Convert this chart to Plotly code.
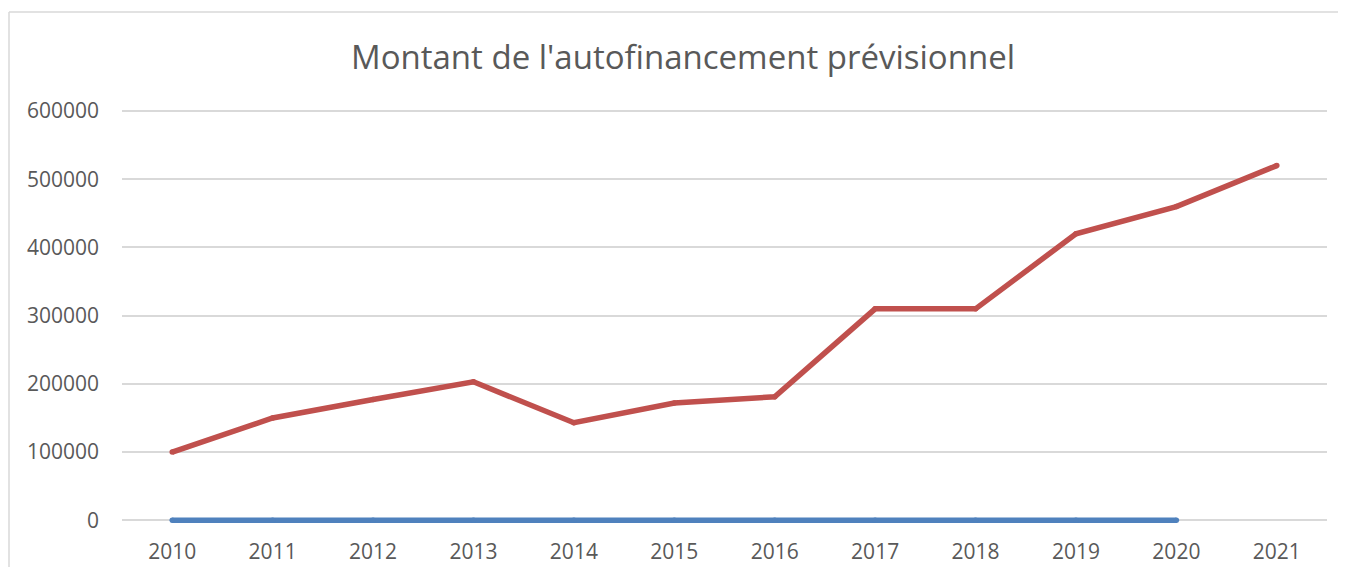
import plotly.graph_objects as go

years = ["2010", "2011", "2012", "2013", "2014", "2015", "2016", "2017", "2018", "2019", "2020", "2021"]
autofinancement = [100000, 150000, 177000, 203000, 143000, 172000, 181000, 310000, 310000, 420000, 460000, 520000]
serie_bleue_years = years[:11]
serie_bleue = [0, 0, 0, 0, 0, 0, 0, 0, 0, 0, 0]
y_ticks = [0, 100000, 200000, 300000, 400000, 500000, 600000]

# page has an 8px body margin; figure sized to fit inside the window without overflow
W, H = 1330, 559
ML, MR, MT, MB = 114, 11, 101, 44.27
Y_RANGE = [-4000, 603000]

fig = go.Figure()
fig.add_trace(go.Scatter(
    x=serie_bleue_years, y=serie_bleue, mode="lines+markers",
    line=dict(color="#4F81BD", width=5.5),
    marker=dict(color="#4F81BD", size=5.5),
    showlegend=False, hoverinfo="x+y"))
fig.add_trace(go.Scatter(
    x=years, y=autofinancement, mode="lines+markers",
    line=dict(color="#C0504D", width=5.5),
    marker=dict(color="#C0504D", size=5.5),
    showlegend=False, hoverinfo="x+y"))

pw = W - ML - MR
ph = H - MT - MB
x_left = (1 - ML) / pw
y_top = (H - 4 - MB) / ph
fig.add_shape(type="line", xref="paper", yref="paper",
              x0=x_left, x1=(W - ML) / pw + 0.01, y0=y_top, y1=y_top,
              line=dict(color="#D9D9D9", width=1.5))
fig.add_shape(type="line", xref="paper", yref="paper",
              x0=x_left, x1=x_left, y0=y_top, y1=-MB / ph - 0.01,
              line=dict(color="#D9D9D9", width=1.5))

fig.update_layout(
    width=W, height=H,
    margin=dict(l=ML, r=MR, t=MT, b=MB, pad=0, autoexpand=False),
    paper_bgcolor="white", plot_bgcolor="white",
    font=dict(family="Open Sans", color="#595959", size=21),
    title=dict(text="Montant de l'autofinancement prévisionnel",
               x=(683 - 8 - ML) / pw, xref="paper", xanchor="center",
               y=1 - 49 / H, yref="container", yanchor="middle",
               font=dict(family="Open Sans", size=33, color="#595959")),
    xaxis=dict(type="category", categoryorder="array", categoryarray=years,
               range=[-0.5, 11.5], showgrid=False, zeroline=False,
               showline=False, ticks="", ticklabelstandoff=14,
               automargin=False,
               tickfont=dict(size=21, color="#595959")),
    yaxis=dict(range=Y_RANGE, tickvals=y_ticks,
               ticktext=[str(v) for v in y_ticks],
               showgrid=True, gridcolor="#D9D9D9", gridwidth=1.5,
               zeroline=False, showline=False, ticks="",
               ticklabelstandoff=22, automargin=False,
               tickfont=dict(size=21, color="#595959")),
)

fig.write_html("out.html")
